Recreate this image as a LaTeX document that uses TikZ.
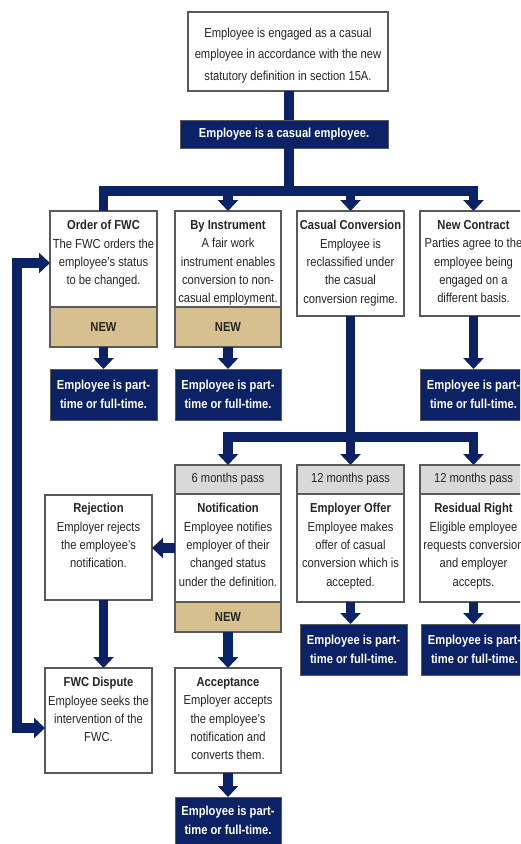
\documentclass[tikz,border=0pt]{standalone}
\usepackage{fontspec}
\setmainfont{Liberation Sans}[FakeStretch=0.86]
\usetikzlibrary{arrows.meta}
\definecolor{navy}{HTML}{0C2266}
\definecolor{tan}{HTML}{D6C08F}
\definecolor{hdrgrey}{HTML}{D9D9D9}
\definecolor{edge}{HTML}{5A5A5A}
\definecolor{ink}{HTML}{262626}
\tikzset{
  every node/.style={outer sep=0pt},
  wbox/.style={draw=edge, line width=1.1pt, fill=white, rectangle},
  newbox/.style={draw=edge, line width=1.1pt, fill=tan, text=ink, font=\fontsize{13}{16}\selectfont\bfseries},
  hdrbox/.style={draw=edge, line width=1.1pt, fill=hdrgrey, text=ink, font=\fontsize{13}{16}\selectfont},
  dbox/.style={draw=edge, line width=0.8pt, fill=navy, text=white, align=center, inner sep=0pt, font=\fontsize{13}{19.5}\selectfont\bfseries},
  btxt/.style={anchor=north, inner sep=0pt, align=center, text=ink, font=\fontsize{13}{18.3}\selectfont},
  pipe/.style={draw=navy, line width=9.5pt},
  tip/.style={-{Triangle[width=20pt,length=11pt]}},
  tips/.style={{Triangle[width=20pt,length=11pt]}-{Triangle[width=20pt,length=11pt]}},
}
\newcommand{\ttl}[1]{\textbf{#1}}
\begin{document}
\begin{tikzpicture}[x=1pt,y=-1pt]
\clip (0,0) rectangle (520,844);
\fill[white] (0,0) rectangle (520,844);

% top
\node[wbox, minimum width=200pt, minimum height=79pt] (top) at (288,51.5) {};
\node[btxt, font=\fontsize{13}{21.5}\selectfont] (toptx) at (288,28) {Employee is engaged as a casual\\employee in accordance with the new\\statutory definition in section 15A.};
\node[dbox, minimum width=208pt, minimum height=28pt] (casual) at (284,134) {Employee is a casual employee.};

% row 1
\node[wbox, minimum width=107pt, minimum height=96pt] (ofwc) at (103.5,259) {};
\node[newbox, minimum width=107pt, minimum height=40pt] (ofwcn) at (103.5,327) {NEW};
\node[btxt] (ofwct) at (103.5,220.5) {\ttl{Order of FWC}\\The FWC orders the\\employee's status\\to be changed.};

\node[wbox, minimum width=106pt, minimum height=96pt] (bi) at (228,259) {};
\node[newbox, minimum width=106pt, minimum height=40pt] (bin) at (228,327) {NEW};
\node[btxt] (bit) at (228,220.5) {\ttl{By Instrument}\\A fair work\\instrument enables\\conversion to non-\\casual employment.};

\node[wbox, minimum width=107pt, minimum height=105pt] (cc) at (350.5,263.5) {};
\node[btxt] (cct) at (350.5,220.5) {\ttl{Casual Conversion}\\Employee is\\reclassified under\\the casual\\conversion regime.};

\node[wbox, minimum width=107pt, minimum height=105pt] (nc) at (473.5,263.5) {};
\node[btxt] (nct) at (473.5,220.5) {\ttl{New Contract}\\Parties agree to the\\employee being\\engaged on a\\different basis.};

\node[dbox, minimum width=107pt, minimum height=51pt] (d1) at (103.5,394.5) {Employee is part-\\time or full-time.};
\node[dbox, minimum width=106pt, minimum height=51pt] (d2) at (228,394.5) {Employee is part-\\time or full-time.};
\node[dbox, minimum width=107pt, minimum height=51pt] (d4) at (473.5,394.5) {Employee is part-\\time or full-time.};

% row 2
\node[hdrbox, minimum width=106pt, minimum height=29pt] (nh) at (228,479.5) {6 months pass};
\node[wbox, minimum width=106pt, minimum height=108pt] (nb) at (228,548) {};
\node[newbox, minimum width=106pt, minimum height=30pt] (nn) at (228,617) {NEW};
\node[btxt] (nbt) at (228,503.5) {\ttl{Notification}\\Employee notifies\\employer of their\\changed status\\under the definition.};

\node[hdrbox, minimum width=107pt, minimum height=29pt] (eh) at (350.5,479.5) {12 months pass};
\node[wbox, minimum width=107pt, minimum height=108pt] (eb) at (350.5,548) {};
\node[btxt] (ebt) at (350.5,503.5) {\ttl{Employer Offer}\\Employee makes\\offer of casual\\conversion which is\\accepted.};

\node[hdrbox, minimum width=107pt, minimum height=29pt] (rh) at (473.5,479.5) {12 months pass};
\node[wbox, minimum width=107pt, minimum height=108pt] (rb) at (473.5,548) {};
\node[btxt] (rbt) at (473.5,503.5) {\ttl{Residual Right}\\Eligible employee\\requests conversion\\and employer\\accepts.};

\node[wbox, minimum width=107pt, minimum height=105pt] (rej) at (98.5,547.5) {};
\node[btxt] (rejt) at (98.5,503.5) {\ttl{Rejection}\\Employer rejects\\the employee's\\notification.};

\node[dbox, minimum width=107pt, minimum height=51pt] (de) at (353.5,649.5) {Employee is part-\\time or full-time.};
\node[dbox, minimum width=107pt, minimum height=51pt] (dr) at (474.5,649.5) {Employee is part-\\time or full-time.};

\node[wbox, minimum width=107pt, minimum height=105pt] (disp) at (98.5,720.5) {};
\node[btxt] (dispt) at (98.5,677.5) {\ttl{FWC Dispute}\\Employee seeks the\\intervention of the\\FWC.};

\node[wbox, minimum width=106pt, minimum height=105pt] (acc) at (228,720.5) {};
\node[btxt] (acct) at (228,677.5) {\ttl{Acceptance}\\Employer accepts\\the employee's\\notification and\\converts them.};

\node[dbox, minimum width=106pt, minimum height=47pt] (da) at (228,820.5) {Employee is part-\\time or full-time.};

% connectors
\coordinate (trunk) at (289,0);
\coordinate (b1) at (0,191);
\coordinate (b2) at (0,437);
\coordinate (rx) at (103.5,0);
\coordinate (fbA) at (17,263);
\coordinate (fbB) at (17,728);

\draw[pipe] (top.south -| trunk) -- (casual.north -| trunk);
\draw[pipe] (casual.south -| trunk) -- (trunk |- b1);
\draw[pipe,tip] (ofwc.north) -- (ofwc.north |- b1) -- (nc.north |- b1) -- (nc.north);
\draw[pipe,tip] (bi.north |- b1) -- (bi.north);
\draw[pipe,tip] (cc.north |- b1) -- (cc.north);

\draw[pipe,tip] (ofwcn.south) -- (d1.north);
\draw[pipe,tip] (bin.south) -- (d2.north);
\draw[pipe,tip] (nc.south) -- (d4.north);

\draw[pipe,tip] (cc.south) -- (eh.north);
\draw[pipe,tips] (nh.north) -- (nh.north |- b2) -- (rh.north |- b2) -- (rh.north);

\draw[pipe,tip] (nb.west) -- (rej.east |- nb.west);
\draw[pipe,tip] (rej.south -| rx) -- (disp.north -| rx);
\draw[pipe,tip] (nn.south) -- (acc.north);
\draw[pipe,tip] (acc.south) -- (da.north);
\draw[pipe,tip] (eb.south) -- (de.north -| eb.south);
\draw[pipe,tip] (rb.south) -- (dr.north -| rb.south);

\draw[pipe,tips] (ofwc.west |- fbA) -- (fbA) -- (fbB) -- (disp.west |- fbB);
\end{tikzpicture}
\end{document}
